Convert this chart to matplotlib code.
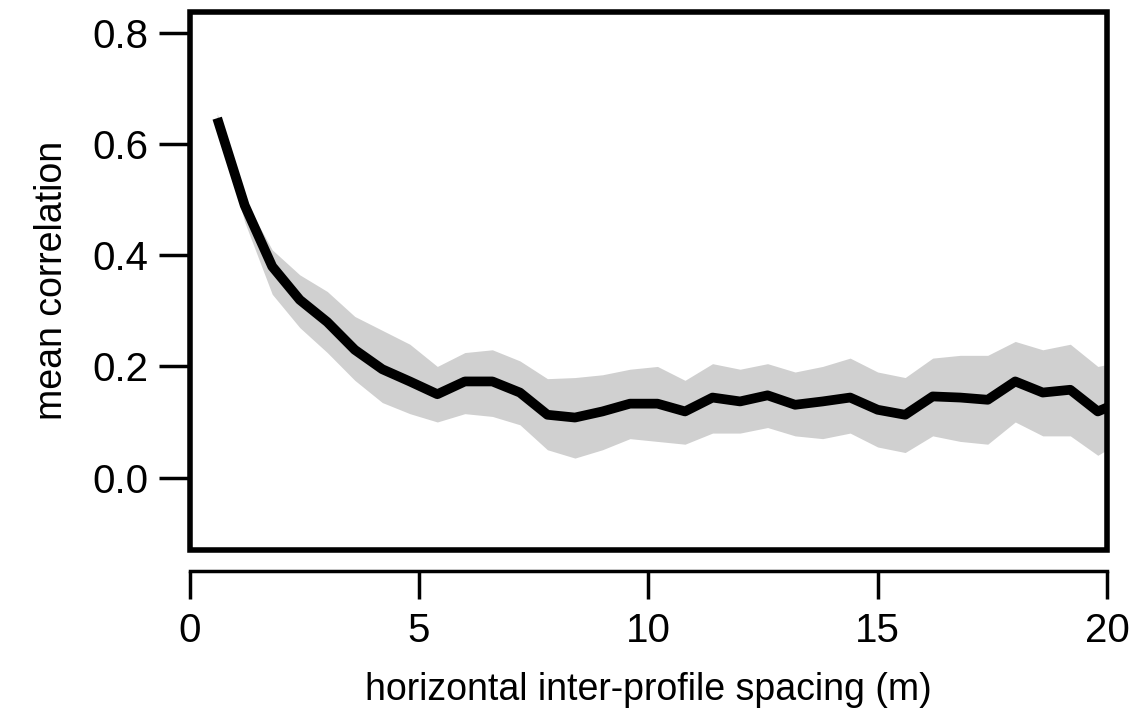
import matplotlib
matplotlib.use("Agg")
import matplotlib.pyplot as plt
from matplotlib.patches import Rectangle

plt.rcParams["font.family"] = ["Liberation Sans", "DejaVu Sans"]

spacing = [0.6, 1.2, 1.8, 2.4, 3.0, 3.6, 4.2, 4.8, 5.4, 6.0, 6.6, 7.2, 7.8, 8.4, 9.0, 9.6, 10.2,
           10.8, 11.4, 12.0, 12.6, 13.2, 13.8, 14.4, 15.0, 15.6, 16.2, 16.8, 17.4, 18.0, 18.6,
           19.2, 19.8, 20.4]
mean_corr = [0.647, 0.49, 0.38, 0.32, 0.28, 0.23, 0.195, 0.173, 0.15, 0.173, 0.173, 0.153,
             0.113, 0.108, 0.119, 0.133, 0.133, 0.119, 0.144, 0.137, 0.148, 0.131, 0.137,
             0.144, 0.122, 0.113, 0.146, 0.144, 0.140, 0.173, 0.153, 0.158, 0.119, 0.14]
upper = [0.655, 0.50, 0.41, 0.365, 0.335, 0.29, 0.265, 0.24, 0.20, 0.225, 0.23, 0.21, 0.178,
         0.18, 0.185, 0.195, 0.20, 0.175, 0.205, 0.195, 0.205, 0.19, 0.20, 0.215, 0.19, 0.18,
         0.215, 0.22, 0.22, 0.245, 0.23, 0.24, 0.20, 0.21]
lower = [0.64, 0.46, 0.33, 0.27, 0.225, 0.175, 0.135, 0.115, 0.10, 0.115, 0.11, 0.095, 0.05,
         0.035, 0.05, 0.07, 0.065, 0.06, 0.08, 0.08, 0.09, 0.075, 0.07, 0.08, 0.055, 0.045,
         0.075, 0.065, 0.06, 0.10, 0.075, 0.075, 0.04, 0.07]

fig = plt.figure(figsize=(11.29, 7.13), dpi=100)
ax = fig.add_axes([0.168, 0.229, 0.8125, 0.754])
ax.fill_between(spacing, lower, upper, color="#d0d0d0", lw=0)
ax.plot(spacing, mean_corr, color="black", lw=7, solid_capstyle="butt")
ax.set_xlim(0, 20)
ax.set_ylim(-0.13, 0.838)

for s in ["top", "right", "left"]:
    ax.spines[s].set_visible(False)
ax.spines["bottom"].set_position(("outward", 15))
ax.spines["bottom"].set_linewidth(2.5)
ax.add_patch(Rectangle((0, 0), 1, 1, transform=ax.transAxes, fill=False, lw=4,
                       clip_on=False, zorder=5))

ax.set_yticks([0.0, 0.2, 0.4, 0.6, 0.8])
ax.set_xticks([0, 5, 10, 15, 20])
ax.tick_params(axis="both", labelsize=29, width=2.5, length=22, direction="out")
ax.tick_params(axis="y", pad=8)
ax.tick_params(axis="x", length=20, pad=10)
ax.set_xlabel("horizontal inter-profile spacing (m)", fontsize=27, labelpad=16)
ax.set_ylabel("mean correlation", fontsize=27, labelpad=16)

fig.savefig("out.png", dpi=100, facecolor="white")
